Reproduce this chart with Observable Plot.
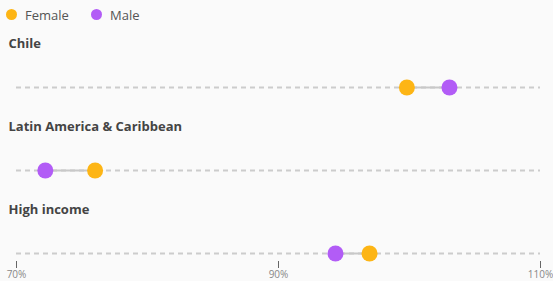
<!DOCTYPE html>
<html><head><meta charset="utf-8">
<script src="https://cdn.jsdelivr.net/npm/d3@7"></script>
<script src="https://cdn.jsdelivr.net/npm/@observablehq/plot@0.6"></script>
<style>
body{margin:0;background:#fafafa;font-family:"Open Sans",sans-serif;}
.legend{height:30px;position:relative;font-size:13px;color:#555;}
.legend span{position:absolute;top:6px;line-height:18px;}
.legend i{position:absolute;width:11px;height:11px;border-radius:50%;top:9px;}
</style></head><body>
<div class="legend">
<i style="left:6px;background:#fdb515"></i><span style="left:25px">Female</span>
<i style="left:91px;background:#b25cf6"></i><span style="left:110px">Male</span>
</div>
<div id="chart"></div>
<script>
const regions = ["Chile", "Latin America & Caribbean", "High income"];
const female = [99.8, 76.0, 96.95];
const male = [103.05, 72.2, 94.35];
const xTicks = [70, 90, 110];
const colors = {Female: "#fdb515", Male: "#b25cf6"};

const rows = regions.map((r, i) => ({region: r, female: female[i], male: male[i]}));
const pts = rows.flatMap(d => [
  {region: d.region, sex: "Female", v: d.female},
  {region: d.region, sex: "Male", v: d.male}
]);

const chart = Plot.plot({
  width: 553, height: 251,
  marginLeft: 16, marginRight: 13, marginTop: 0, marginBottom: 20,
  style: {background: "#fafafa", fontFamily: "Open Sans, sans-serif"},
  x: {domain: [70, 110], ticks: xTicks, tickFormat: d => d + "%", tickSize: 7, label: null},
  y: {type: "point", domain: regions, range: [57, 223], padding: 0, axis: null},
  marks: [
    Plot.ruleY(regions, {y: d => d, x1: 70, x2: 110, stroke: "#cccccc", strokeWidth: 2, strokeDasharray: "5,4"}),
    Plot.link(rows, {x1: "female", x2: "male", y1: "region", y2: "region", stroke: "#c8c8c8", strokeWidth: 2}),
    Plot.dot(pts, {x: "v", y: "region", r: 8, fill: d => colors[d.sex], stroke: null}),
    Plot.text(regions, {x: 70, y: d => d, text: d => d, dx: -8, dy: -44, textAnchor: "start", fontWeight: "bold", fontSize: 13, fill: "#444"}),
    Plot.axisX({ticks: xTicks, tickFormat: d => d + "%", tickSize: 7, stroke: "#666", fill: "#888", fontSize: 10, tickPadding: 2})
  ]
});
document.getElementById("chart").appendChild(chart);
</script>
</body></html>
